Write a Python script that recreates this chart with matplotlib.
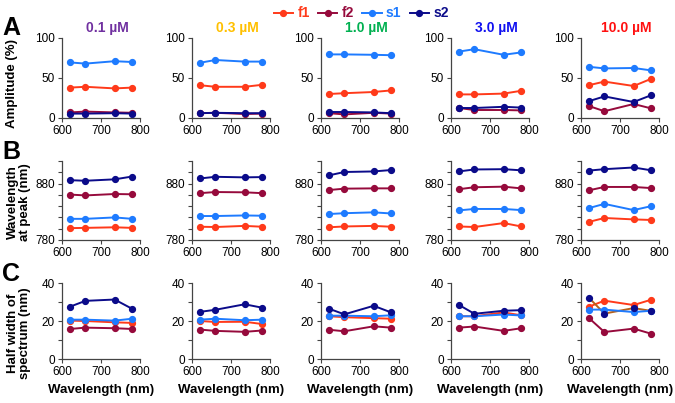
import matplotlib
matplotlib.use("Agg")
import matplotlib.pyplot as plt
from matplotlib.lines import Line2D
from matplotlib.ticker import MultipleLocator

plt.rcParams['font.family'] = ['Liberation Sans', 'DejaVu Sans']

# ---------------- data ----------------
wavelengths = [620, 660, 735, 780]
concentrations = ["0.1 µM", "0.3 µM", "1.0 µM", "3.0 µM", "10.0 µM"]
series = ["f1", "f2", "s1", "s2"]

# Row A: amplitude (%)
amp_f1 = [[38, 39, 37, 38], [41, 39, 39, 41.5], [30, 31, 32.5, 34.5], [29.5, 29.5, 30.5, 34], [41, 45.5, 40, 49]]
amp_f2 = [[7, 8, 7, 6.5], [6, 6.5, 5, 5.5], [6, 4.5, 6.5, 5.5], [12.5, 10, 10, 9.5], [15, 8.5, 17.5, 12]]
amp_s1 = [[69.5, 68, 71, 70], [69, 72.5, 70.5, 70.5], [79.5, 79.5, 79, 78.5], [83, 86, 79, 82], [64, 62, 62.5, 59.5]]
amp_s2 = [[5.5, 5.5, 6, 5.5], [6, 6.5, 6, 6], [7.5, 7.5, 7, 6], [12.5, 12.5, 14, 13], [21, 27, 20, 28.5]]

# Row B: wavelength at peak (nm)
pk_f1 = [[801, 801.5, 802.5, 801.5], [803.5, 803, 805, 803.5], [802.5, 804, 805, 803.5], [804, 803, 810, 804], [812, 819, 816.5, 815.5]]
pk_f2 = [[860.5, 859, 861.5, 861], [863, 865, 864.5, 863], [868.5, 871, 871.5, 871.5], [870, 873.5, 874.5, 871.5], [868, 874, 874, 872]]
pk_s1 = [[817.5, 817.5, 820, 817.5], [822.5, 822.5, 823.5, 823], [826, 827.5, 829, 827], [832.5, 835, 835, 833], [836.5, 844, 833, 840]]
pk_s2 = [[886, 885, 887.5, 892.5], [889, 892, 891, 891.5], [894.5, 900.5, 901.5, 904], [901.5, 905, 905.5, 903.5], [903, 905.5, 908.5, 903.5]]

# Row C: half width of spectrum (nm)
hw_f1 = [[20.2, 20, 19.3, 19], [20, 19.5, 19.6, 18.4], [22.5, 22, 21.5, 21.2], [22.5, 22.5, 24.5, 23], [27.5, 30.7, 28.4, 31.2]]
hw_f2 = [[15.8, 16.5, 16.2, 15.8], [15.5, 14.8, 14.3, 15], [15.4, 14.6, 17.2, 16.5], [16.5, 17.1, 14.8, 16.2], [21.6, 14.2, 16, 13.3]]
hw_s1 = [[20.7, 20.7, 20.2, 21.2], [20.7, 21.2, 20.4, 20.7], [22.8, 22.8, 22.5, 23], [22.5, 22.5, 23.4, 22.9], [26, 26, 24.7, 25.4]]
hw_s2 = [[27.5, 30.6, 31.3, 26.4], [24.8, 25.9, 28.8, 27], [26.5, 23.5, 28, 24.5], [28.5, 23.8, 25.4, 25.7], [32.3, 23.9, 26.8, 25.3]]

xticks = [600, 700, 800]

# ---------------- style ----------------
colors = {"f1": "#FF3A1A", "f2": "#960A3C", "s1": "#1E7BFF", "s2": "#0B0B8A"}
title_colors = ["#7030A0", "#FFC000", "#00B050", "#1010F0", "#FF1010"]

W, H = 675, 403
fig = plt.figure(figsize=(W / 100, H / 100), dpi=100)

lefts = [62, 192, 321, 451, 581]
axw = 78
rows = [(38, 118), (161, 240), (283, 359)]

row_data = [
    (amp_f1, amp_f2, amp_s1, amp_s2),
    (pk_f1, pk_f2, pk_s1, pk_s2),
    (hw_f1, hw_f2, hw_s1, hw_s2),
]
ylims = [(0, 100), (780, 920), (0, 40)]
ymaj = [[0, 50, 100], [780, 880], [0, 20, 40]]
ymin = [None, 20, 10]

tick_fs = 8.5
for r, (top, bot) in enumerate(rows):
    for c in range(5):
        ax = fig.add_axes([lefts[c] / W, 1 - bot / H, axw / W, (bot - top) / H])
        data = row_data[r]
        for si, name in enumerate(series):
            vals = data[si][c]
            if r == 2 and c == 4 and name == "s2":
                ax.plot(wavelengths, vals, color="#B8621B", lw=1.4, zorder=2)
                ax.plot(wavelengths, vals, ls="none", marker="o", ms=4.2,
                        color=colors[name], zorder=3)
            else:
                ax.plot(wavelengths, vals, color=colors[name], lw=1.4,
                        marker="o", ms=4.2, zorder=2 + si * 0.1)
        ax.set_xlim(600, 800)
        ax.set_ylim(*ylims[r])
        ax.set_xticks(xticks)
        ax.set_yticks(ymaj[r])
        if ymin[r]:
            ax.yaxis.set_minor_locator(MultipleLocator(ymin[r]))
        for s in ("top", "right"):
            ax.spines[s].set_visible(False)
        for s in ("left", "bottom"):
            ax.spines[s].set_color("#444444")
            ax.spines[s].set_linewidth(0.9)
        ax.tick_params(axis="both", which="major", direction="out", length=3,
                       width=0.8, color="#444444", labelsize=tick_fs, pad=2)
        ax.tick_params(axis="y", which="minor", direction="out", length=3,
                       width=0.8, color="#444444")
        ax.patch.set_alpha(0)
        if r == 0:
            ax.text(0.58, 1.12, concentrations[c], transform=ax.transAxes,
                    ha="center", va="center", fontsize=10, fontweight="bold",
                    color=title_colors[c])
        if r == 2:
            ax.set_xlabel("Wavelength (nm)", fontsize=9.5, fontweight="bold",
                          labelpad=4)

# panel letters
for letter, yc in zip("ABC", [28, 152, 274]):
    fig.text(2 / W, 1 - yc / H, letter, fontsize=18, fontweight="bold",
             ha="left", va="center")

# y labels
fig.text(12 / W, 1 - 84 / H, "Amplitude (%)", rotation=90, fontsize=9.5,
         fontweight="bold", ha="center", va="center")
fig.text(19 / W, 1 - 202 / H, "Wavelength\nat peak (nm)", rotation=90,
         fontsize=9.5, fontweight="bold", ha="center", va="center",
         multialignment="center", linespacing=1.0)
fig.text(19 / W, 1 - 333 / H, "Half width of\nspectrum (nm)", rotation=90,
         fontsize=9.5, fontweight="bold", ha="center", va="center",
         multialignment="center", linespacing=1.0)

# legend
handles = [Line2D([0], [0], color=colors[n], lw=1.4, marker="o", ms=4.2)
           for n in series]
leg = fig.legend(handles, series, loc="upper center", bbox_to_anchor=(0.535, 1.015),
                 ncol=4, frameon=False, handlelength=1.4, handletextpad=0.3,
                 columnspacing=0.6, prop={"weight": "bold", "size": 10},
                 labelcolor="linecolor")

fig.savefig("out.png", dpi=100)
